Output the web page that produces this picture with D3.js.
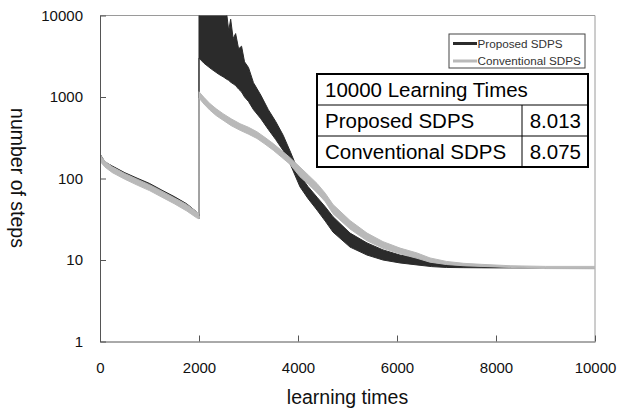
<!DOCTYPE html>
<html>
<head>
<meta charset="utf-8">
<script src="https://cdn.jsdelivr.net/npm/d3@7"></script>
<style>
  body { margin: 0; background: #fff; }
  svg { display: block; font-family: "Liberation Sans", Arial, sans-serif; }
</style>
</head>
<body>
<svg id="chart"></svg>
<script>
// values (learning times -> number of steps, band low/high)
var proposedTimes = [0, 100, 250, 500, 750, 1000, 1250, 1500, 1750, 1950, 1999,
  2000, 2100, 2250, 2400, 2500, 2560, 2600, 2640, 2690, 2740, 2800, 2860, 2920, 3000,
  3100, 3250, 3400, 3550, 3700, 3850, 4040, 4200, 4384, 4550, 4707, 5051, 5394, 5717,
  6061, 6404, 6700, 7000, 7350, 7700, 8000, 9000, 10000]
var proposedLow = [175, 145, 126, 106, 91, 78, 65, 54, 44, 35, 32,
  3000, 2600, 2200, 1900, 1750, 1650, 1600, 1520, 1450, 1380, 1250, 1150, 1000, 880,
  700, 540, 400, 300, 220, 147, 79, 57, 41, 30, 22, 14.4, 11.5, 10,
  9.2, 8.7, 8.3, 8.1, 8.05, 8.02, 8.0, 7.98, 7.98]
var proposedHigh = [200, 160, 142, 118, 101, 87, 72, 60, 49, 39, 35,
  15000, 15000, 15000, 14000, 12000, 10500, 6500, 9000, 5200, 6000, 3900, 4200, 2700, 2300,
  1500, 1050, 700, 500, 340, 210, 110, 80, 59, 45, 34, 21.4, 16.2, 13.3,
  11.5, 10.6, 9.3, 8.8, 8.45, 8.25, 8.12, 8.04, 8.04]

var conventionalTimes = [0, 100, 250, 500, 750, 1000, 1250, 1500, 1750, 1950, 1999,
  2000, 2100, 2220, 2350, 2485, 2650, 2830, 3000, 3170, 3330, 3500, 3670, 3840, 4040,
  4210, 4384, 4550, 4707, 5051, 5394, 5717, 6061, 6404, 6667, 7000, 7350, 7700, 8300,
  9000, 10000]
var conventionalLow = [163, 138, 118, 98, 83, 71, 59, 49, 40, 33, 32,
  970, 820, 690, 590, 520, 445, 390, 350, 310, 265, 222, 182, 149, 105,
  85, 67, 52, 37, 24, 17.2, 13.9, 11.9, 10.5, 9.4, 8.8, 8.5, 8.35, 8.1,
  7.85, 7.8]
var conventionalHigh = [195, 163, 139, 115, 98, 84, 70, 58, 48, 39, 37,
  1160, 990, 830, 715, 625, 540, 470, 425, 375, 320, 268, 220, 180, 138,
  110, 87, 66, 48, 30.5, 21.4, 16.8, 14, 12.2, 10.6, 9.6, 9.1, 8.85, 8.5,
  8.35, 8.35]

var xTicks = [0, 2000, 4000, 6000, 8000, 10000]
var yTicks = [1, 10, 100, 1000, 10000]
var seriesNames = ["Proposed SDPS", "Conventional SDPS"]
var tableTitle = "10000 Learning Times"
var tableValues = ["8.013", "8.075"]

var screen = {width: 618, height: 412}
var margins = {top: 15.5, right: 23, bottom: 70.5, left: 100}
var width = screen.width - margins.left - margins.right
var height = screen.height - margins.top - margins.bottom

var svg = d3.select("#chart")
  .attr("width", screen.width)
  .attr("height", screen.height)

var xScale = d3.scaleLinear().domain([0, 10000]).range([0, width])
var yScale = d3.scaleLog().domain([1, 10000]).range([height, 0])

svg.append("defs").append("clipPath").attr("id", "plotClip")
  .append("rect").attr("width", width).attr("height", height)

var graph = svg.append("g")
  .attr("transform", "translate(" + margins.left + "," + margins.top + ")")

// frame: top and right edges are light
graph.append("line").attr("x1", 0).attr("x2", width).attr("y1", 0).attr("y2", 0)
  .attr("stroke", "#9a9a9a").attr("stroke-width", 1)
graph.append("line").attr("x1", width).attr("x2", width).attr("y1", 0).attr("y2", height)
  .attr("stroke", "#9a9a9a").attr("stroke-width", 1)

var toRows = function(times, low, high) {
  return times.map(function(t, i) { return {t: t, lo: low[i], hi: high[i]} })
}

var band = d3.area()
  .x(function(d) { return xScale(d.t) })
  .y0(function(d) { return yScale(d.lo) })
  .y1(function(d) { return yScale(d.hi) })

var plot = graph.append("g").attr("clip-path", "url(#plotClip)")

plot.append("path")
  .datum(toRows(proposedTimes, proposedLow, proposedHigh))
  .attr("d", band)
  .attr("fill", "#2b2b2b")
  .attr("stroke", "#2b2b2b")
  .attr("stroke-width", 1)

plot.append("path")
  .datum(toRows(conventionalTimes, conventionalLow, conventionalHigh))
  .attr("d", band)
  .attr("fill", "#b9b9b9")
  .attr("stroke", "#b9b9b9")
  .attr("stroke-width", 1)

// axes
var yAxis = d3.axisLeft(yScale)
  .tickValues(yTicks)
  .tickFormat(d3.format("d"))
  .tickSizeInner(-6)
  .tickSizeOuter(0)
  .tickPadding(17)

var xAxis = d3.axisBottom(xScale)
  .tickValues(xTicks)
  .tickFormat(d3.format("d"))
  .tickSizeInner(-6)
  .tickSizeOuter(0)
  .tickPadding(21)

var gy = graph.append("g").call(yAxis)
var gx = graph.append("g").attr("transform", "translate(0," + height + ")").call(xAxis)

;[gx, gy].forEach(function(g) {
  g.selectAll("path, line").attr("stroke", "#555")
  g.selectAll("text").attr("font-size", 15).attr("fill", "#111")
    .attr("font-family", "Liberation Sans, Arial, sans-serif")
})

svg.append("text")
  .attr("x", margins.left + width / 2)
  .attr("y", 404)
  .attr("text-anchor", "middle")
  .attr("font-size", 19.5)
  .attr("fill", "#111")
  .text("learning times")

svg.append("text")
  .attr("transform", "translate(11,178) rotate(90)")
  .attr("text-anchor", "middle")
  .attr("font-size", 19.5)
  .attr("fill", "#111")
  .text("number of steps")

// legend
var legend = svg.append("g").attr("transform", "translate(449,34)")
legend.append("rect").attr("width", 136).attr("height", 34)
  .attr("fill", "#fff").attr("stroke", "#444").attr("stroke-width", 1)
var legendColors = ["#2b2b2b", "#b9b9b9"]
var items = legend.selectAll("g.item").data(seriesNames).enter()
  .append("g").attr("class", "item")
  .attr("transform", function(d, i) { return "translate(0," + (9.5 + i * 17.5) + ")" })
items.append("line").attr("x1", 4).attr("x2", 28)
  .attr("stroke", function(d, i) { return legendColors[i] })
  .attr("stroke-width", 3)
items.append("text").attr("x", 28.5).attr("y", 4)
  .attr("font-size", 11.7).attr("fill", "#333")
  .text(function(d) { return d })

// result table
var table = svg.append("g").attr("transform", "translate(317,74)")
var tw = 271, rowH = 31, colX = 205
table.append("rect").attr("width", tw).attr("height", rowH * 3)
  .attr("fill", "#fff").attr("stroke", "#000").attr("stroke-width", 2)
table.selectAll("line.row").data([1, 2]).enter().append("line")
  .attr("x1", 0).attr("x2", tw)
  .attr("y1", function(d) { return d * rowH }).attr("y2", function(d) { return d * rowH })
  .attr("stroke", "#000").attr("stroke-width", 1)
table.append("line").attr("x1", colX).attr("x2", colX)
  .attr("y1", rowH).attr("y2", rowH * 3)
  .attr("stroke", "#000").attr("stroke-width", 1)
table.append("text").attr("x", 8).attr("y", 23)
  .attr("font-size", 20.5).attr("fill", "#000").text(tableTitle)
table.selectAll("text.name").data(seriesNames).enter().append("text")
  .attr("class", "name")
  .attr("x", 8).attr("y", function(d, i) { return rowH * (i + 1) + 23 })
  .attr("font-size", 20.5).attr("fill", "#000")
  .text(function(d) { return d })
table.selectAll("text.val").data(tableValues).enter().append("text")
  .attr("class", "val")
  .attr("x", tw - 7).attr("text-anchor", "end")
  .attr("y", function(d, i) { return rowH * (i + 1) + 23 })
  .attr("font-size", 20.5).attr("fill", "#000")
  .text(function(d) { return d })
</script>
</body>
</html>
